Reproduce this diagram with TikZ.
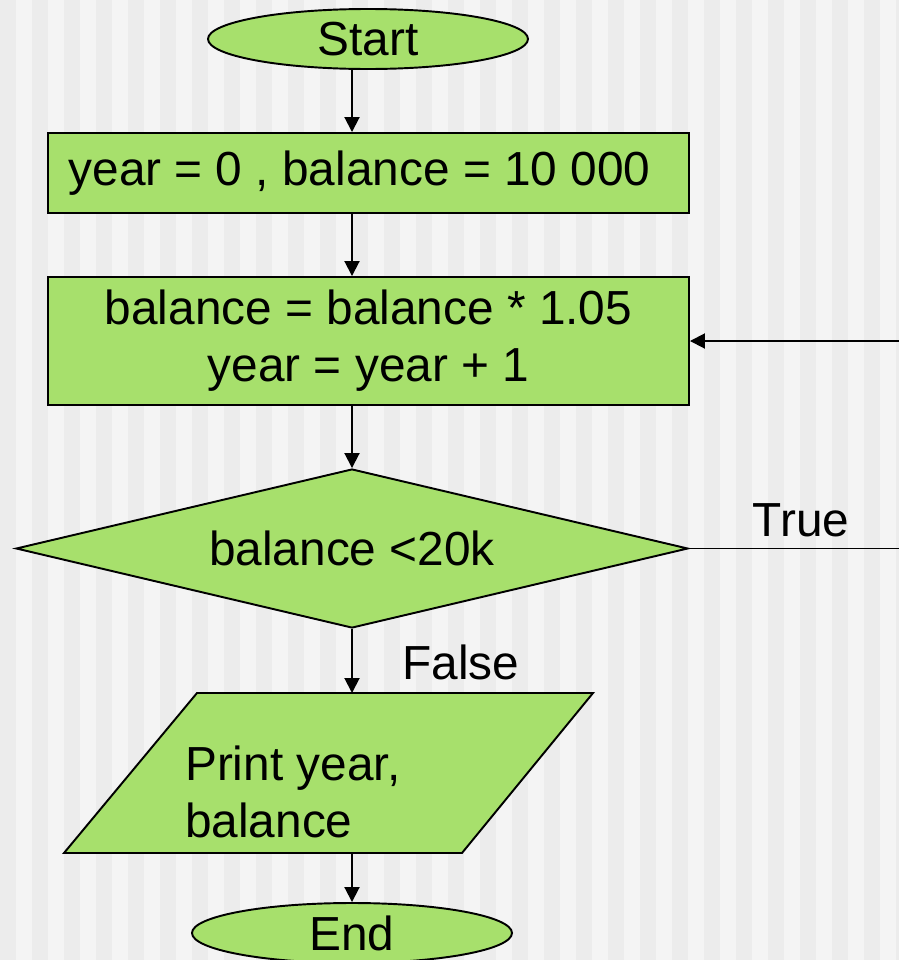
\documentclass[tikz,border=0pt]{standalone}
\usepackage{fontspec}
\setmainfont{Liberation Sans}
\usetikzlibrary{shapes.geometric,arrows.meta}
\definecolor{flowgreen}{RGB}{167,224,108}
\definecolor{stripelight}{RGB}{244,244,244}
\definecolor{stripedark}{RGB}{236,236,236}
\newcommand{\pxlen}{0.02cm}

\begin{document}
\begin{tikzpicture}[x=0.02cm, y=-0.02cm,
  font=\fontsize{27.2}{32.3}\selectfont,
  base/.style={draw=black, fill=flowgreen, line width=1.1pt, inner sep=0pt},
  terminal/.style={base, ellipse, minimum width=320*\pxlen, minimum height=60*\pxlen},
  block/.style={base, rectangle, minimum width=641*\pxlen, align=center},
  decision/.style={base, diamond, aspect=4.2, minimum width=672*\pxlen, minimum height=159*\pxlen},
  flow/.style={line width=1.1pt, -{Triangle[length=15*\pxlen, width=15*\pxlen]}}]

% Page and striped background
\clip (0,0) rectangle (899,960);
\fill[stripelight] (0,0) rectangle (899,960);
\foreach \i in {0,...,28}
  \fill[stripedark] (32*\i,0) rectangle ++(16,960);

% Flowchart shapes
\node[terminal] (start) at (368,39) {Start};
\node[block, minimum height=80*\pxlen] (init) at (368.5,173) {year = 0 , balance = 10 000\hspace*{0.36cm}};
\node[block, minimum height=128*\pxlen] (update) at (368.5,341) {balance = balance * 1.05\\year = year + 1};
\node[decision] (test) at (352,548.5) {balance <20k};

% Output parallelogram
\coordinate (printtl) at (197,693);
\coordinate (printtr) at (593,693);
\coordinate (printbr) at (462,853);
\coordinate (printbl) at (64,853);
\filldraw[base] (printtl) -- (printtr) -- (printbr) -- (printbl) -- cycle;
\node[anchor=west, align=left] (printtext) at (179,792) {Print year,\\balance};

\node[terminal] (end) at (352,933) {End};

% Branch labels
\node (truelabel) at (801,520) {True};
\node (falselabel) at (461,662) {False};
\coordinate (loopright) at (915,548.5);

% Connectors
\draw[flow] (start.south -| test.north) -- (init.north -| test.north);
\draw[flow] (init.south -| test.north) -- (update.north -| test.north);
\draw[flow] (update.south -| test.north) -- (test.north);
\draw[flow] (test.south) -- (test.south |- printtl);
\draw[flow] (printbl -| test.south) -- (end.north);
\draw[flow] (test.east) -- (loopright) |- (update.east);
\end{tikzpicture}
\end{document}
